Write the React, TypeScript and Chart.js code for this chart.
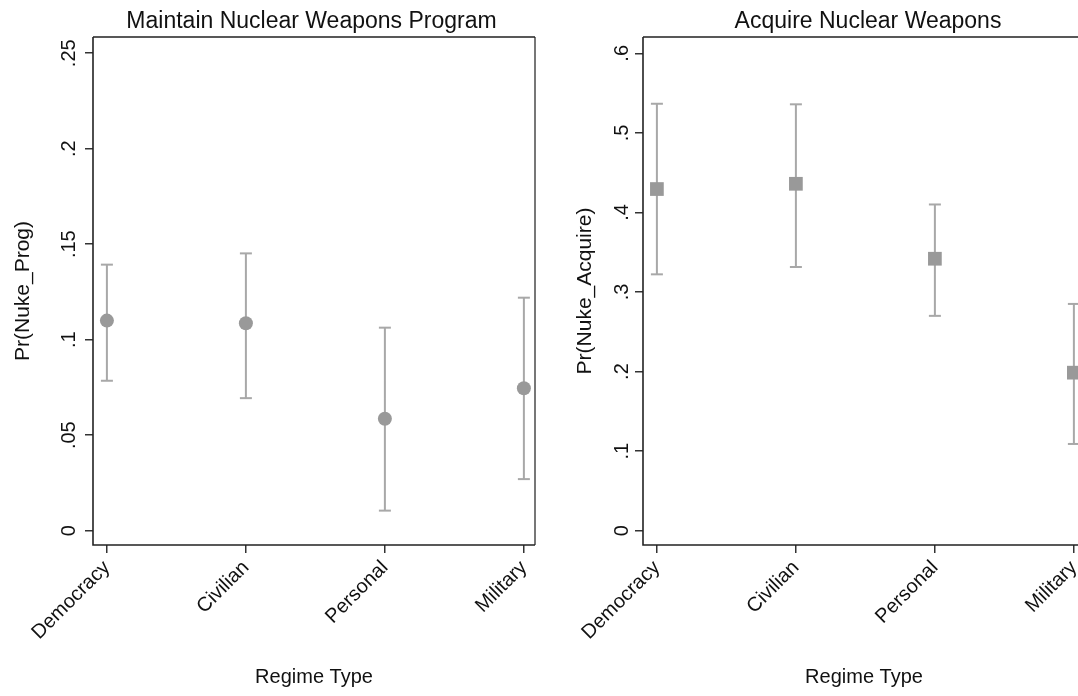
import React, { useEffect, useRef } from 'react';
import { Chart, registerables } from 'chart.js';

Chart.register(...registerables);

const categories = ['Democracy', 'Civilian', 'Personal', 'Military'];

const progEstimate = [0.110, 0.1086, 0.0586, 0.0746];
const progLower = [0.0785, 0.0694, 0.0105, 0.027];
const progUpper = [0.1393, 0.1452, 0.1063, 0.122];
const progTicks = [0, 0.05, 0.1, 0.15, 0.2, 0.25];
const progTickLabels = ['0', '.05', '.1', '.15', '.2', '.25'];

const acqEstimate = [0.4294, 0.436, 0.3418, 0.1986];
const acqLower = [0.3222, 0.3314, 0.270, 0.109];
const acqUpper = [0.5366, 0.5359, 0.410, 0.285];
const acqTicks = [0, 0.1, 0.2, 0.3, 0.4, 0.5, 0.6];
const acqTickLabels = ['0', '.1', '.2', '.3', '.4', '.5', '.6'];

const FONT = '"Liberation Sans", Arial, Helvetica, sans-serif';
const POINT_COLOR = '#999999';
const BAR_COLOR = '#a8a8a8';
const TEXT_COLOR = '#111111';

interface Panel {
  title: string;
  yTitle: string;
  estimate: number[];
  lower: number[];
  upper: number[];
  ticks: number[];
  tickLabels: string[];
  yMin: number;
  yMax: number;
  pointStyle: string;
  pointRadius: number;
  yAxisWidth: number;
  padRight: number;
  tickBaselineX: number;
  yTitleBaselineX: number;
  titleShift: number;
}

function buildConfig(p: Panel): any {
  const pointData = p.estimate.map((v, i) => ({ x: i, y: v }));
  const whisker: any[] = [];
  const caps: any[] = [];
  p.lower.forEach((lo, i) => {
    whisker.push({ x: i, y: lo }, { x: i, y: p.upper[i] }, { x: i, y: null });
    caps.push({ x: i, y: lo }, { x: i, y: p.upper[i] });
  });

  const decor = {
    id: 'decor',
    afterDraw(chart: any) {
      const ctx = chart.ctx;
      const ca = chart.chartArea;
      const ys = chart.scales.y;
      ctx.save();
      // frame
      ctx.lineWidth = 1.6;
      ctx.strokeStyle = '#555555';
      ctx.beginPath();
      ctx.moveTo(ca.right, ca.top);
      ctx.lineTo(ca.right, ca.bottom);
      ctx.stroke();
      ctx.strokeStyle = '#222222';
      ctx.beginPath();
      ctx.moveTo(ca.left, ca.top);
      ctx.lineTo(ca.right, ca.top);
      ctx.moveTo(ca.left, ca.top);
      ctx.lineTo(ca.left, ca.bottom);
      ctx.lineTo(ca.right, ca.bottom);
      ctx.stroke();

      ctx.fillStyle = TEXT_COLOR;
      // y tick labels (rotated)
      ctx.font = `20px ${FONT}`;
      ctx.textAlign = 'center';
      ctx.textBaseline = 'alphabetic';
      p.ticks.forEach((t, i) => {
        const y = ys.getPixelForValue(t);
        ctx.save();
        ctx.translate(p.tickBaselineX, y);
        ctx.rotate(-Math.PI / 2);
        ctx.fillText(p.tickLabels[i], 0, 0);
        ctx.restore();
      });
      // y title
      ctx.font = `21px ${FONT}`;
      ctx.save();
      ctx.translate(p.yTitleBaselineX, (ca.top + ca.bottom) / 2);
      ctx.rotate(-Math.PI / 2);
      ctx.fillText(p.yTitle, 0, 0);
      ctx.restore();
      // x title
      ctx.font = `20px ${FONT}`;
      ctx.fillText('Regime Type', (ca.left + ca.right) / 2, 683);
      // chart title
      ctx.font = `23px ${FONT}`;
      ctx.fillText(p.title, (ca.left + ca.right) / 2 + p.titleShift, 28);
      ctx.restore();
    },
  };

  return {
    type: 'scatter',
    data: {
      datasets: [
        {
          label: 'estimate',
          data: pointData,
          pointStyle: p.pointStyle,
          pointRadius: p.pointRadius,
          pointHoverRadius: p.pointRadius,
          backgroundColor: POINT_COLOR,
          borderColor: POINT_COLOR,
          borderWidth: 0,
          showLine: false,
        },
        {
          label: 'caps',
          data: caps,
          pointStyle: 'line',
          pointRadius: 6,
          pointHoverRadius: 6,
          borderColor: BAR_COLOR,
          backgroundColor: BAR_COLOR,
          borderWidth: 2,
          showLine: false,
        },
        {
          label: 'ci',
          data: whisker,
          showLine: true,
          spanGaps: false,
          pointRadius: 0,
          borderColor: BAR_COLOR,
          borderWidth: 2,
        },
      ],
    },
    options: {
      animation: false,
      responsive: false,
      devicePixelRatio: 1,
      events: [],
      layout: { padding: { top: 37, right: p.padRight, left: 0, bottom: 0 } },
      plugins: {
        legend: { display: false },
        tooltip: { enabled: false },
        title: { display: false },
      },
      scales: {
        x: {
          type: 'linear',
          min: -0.1,
          max: 3.08,
          afterBuildTicks: (scale: any) => {
            scale.ticks = categories.map((_, i) => ({ value: i }));
          },
          afterFit: (scale: any) => {
            scale.height = 151;
          },
          grid: {
            drawOnChartArea: false,
            drawTicks: true,
            tickLength: 8,
            color: '#333333',
            lineWidth: 1.5,
          },
          border: { display: false },
          ticks: {
            autoSkip: false,
            minRotation: 45,
            maxRotation: 45,
            padding: 3,
            color: TEXT_COLOR,
            font: { family: FONT, size: 20 },
            callback: (v: any) => categories[Math.round(v)] ?? '',
          },
        },
        y: {
          type: 'linear',
          min: p.yMin,
          max: p.yMax,
          afterBuildTicks: (scale: any) => {
            scale.ticks = p.ticks.map((v) => ({ value: v }));
          },
          afterFit: (scale: any) => {
            scale.width = p.yAxisWidth;
          },
          grid: {
            drawOnChartArea: false,
            drawTicks: true,
            tickLength: 8,
            color: '#333333',
            lineWidth: 1.5,
          },
          border: { display: false },
          ticks: { display: false },
        },
      },
    },
    plugins: [decor],
  };
}

const leftPanel: Panel = {
  title: 'Maintain Nuclear Weapons Program',
  yTitle: 'Pr(Nuke_Prog)',
  estimate: progEstimate,
  lower: progLower,
  upper: progUpper,
  ticks: progTicks,
  tickLabels: progTickLabels,
  yMin: -0.0075,
  yMax: 0.2585,
  pointStyle: 'circle',
  pointRadius: 7,
  yAxisWidth: 93,
  padRight: 25,
  tickBaselineX: 75,
  yTitleBaselineX: 28.5,
  titleShift: -2.5,
};

const rightPanel: Panel = {
  title: 'Acquire Nuclear Weapons',
  yTitle: 'Pr(Nuke_Acquire)',
  estimate: acqEstimate,
  lower: acqLower,
  upper: acqUpper,
  ticks: acqTicks,
  tickLabels: acqTickLabels,
  yMin: -0.018,
  yMax: 0.6205,
  pointStyle: 'rect',
  pointRadius: 9.7,
  yAxisWidth: 83,
  padRight: 15,
  tickBaselineX: 68,
  yTitleBaselineX: 30.8,
  titleShift: 4,
};

function PanelChart({ panel, left, width }: { panel: Panel; left: number; width: number }) {
  const ref = useRef<HTMLCanvasElement | null>(null);
  useEffect(() => {
    if (!ref.current) return;
    const chart = new Chart(ref.current, buildConfig(panel));
    return () => chart.destroy();
  }, [panel]);
  return (
    <canvas
      ref={ref}
      width={width}
      height={696}
      style={{ position: 'absolute', left, top: 0, width, height: 696, display: 'block' }}
    />
  );
}

export default function App() {
  return (
    <div
      style={{
        position: 'fixed',
        left: 0,
        top: 0,
        width: 1078,
        height: 696,
        overflow: 'hidden',
        background: '#ffffff',
      }}
    >
      <PanelChart panel={leftPanel} left={0} width={560} />
      <PanelChart panel={rightPanel} left={560} width={540} />
    </div>
  );
}
